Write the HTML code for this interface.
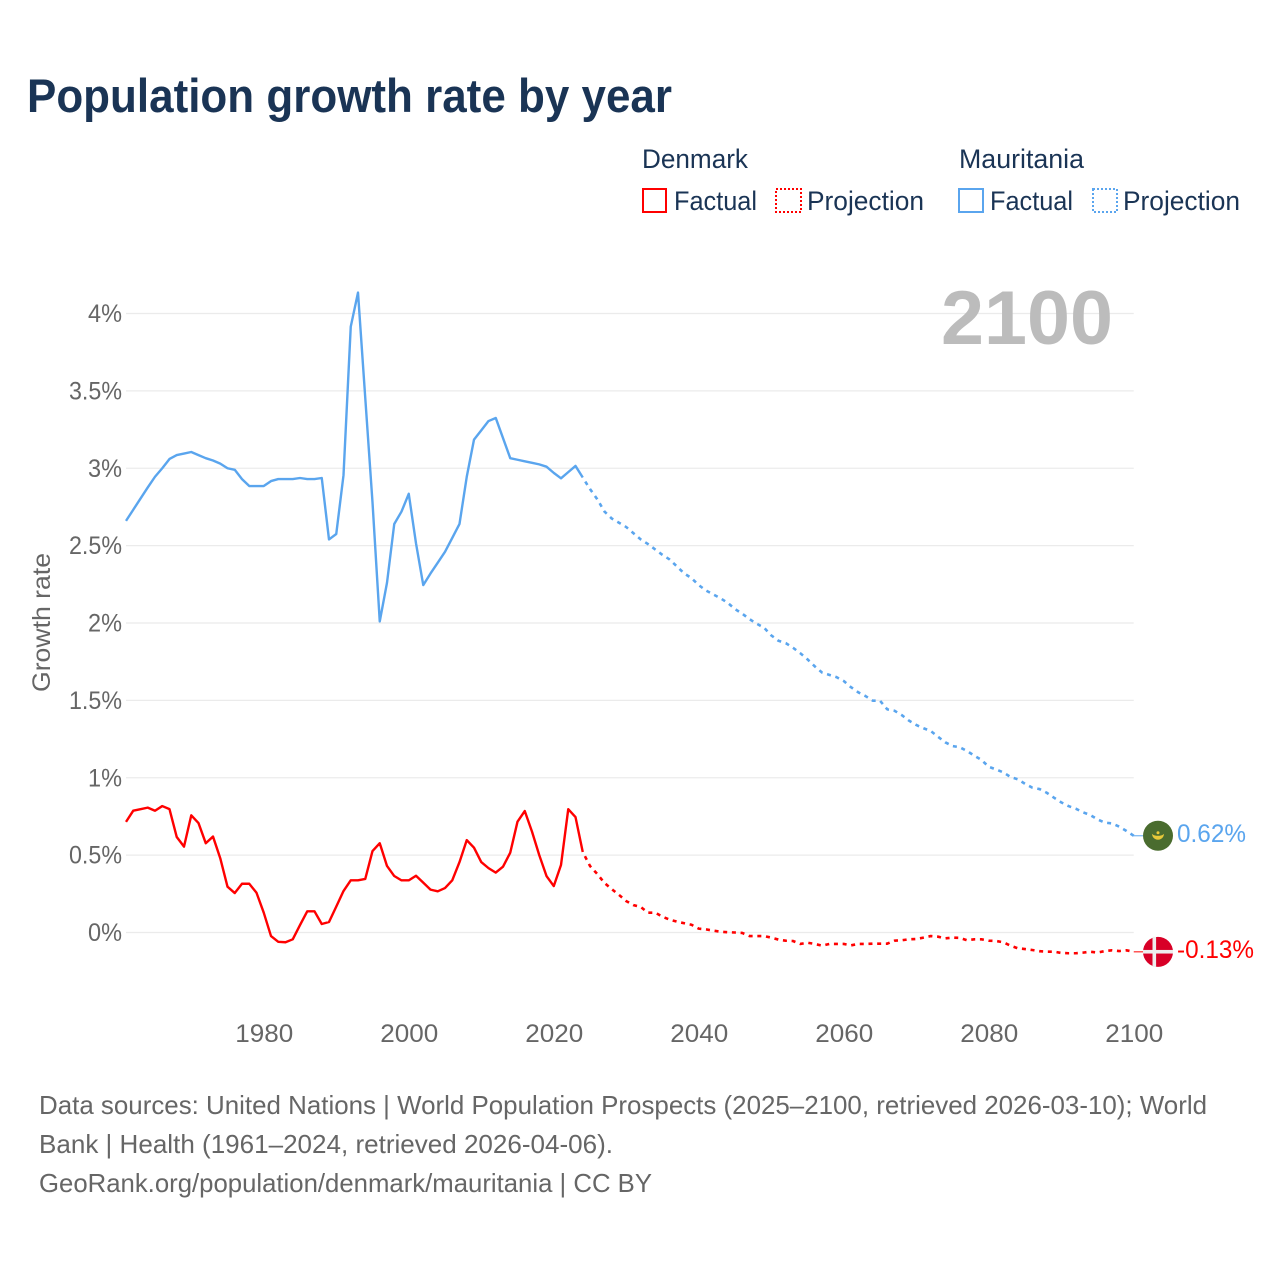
<!DOCTYPE html>
<html lang="en">
<head>
<meta charset="utf-8">
<title>Population growth rate by year</title>
<style>
html,body{margin:0;padding:0;background:#fff;}
svg{display:block;font-family:"Liberation Sans",sans-serif;}
</style>
</head>
<body>
<svg id="chart" xmlns="http://www.w3.org/2000/svg" width="1280" height="1280" viewBox="0 0 1280 1280">
  <rect width="1280" height="1280" fill="#fff"/>
  <text x="27" y="112" font-size="47" font-weight="700" fill="#1a3455" textLength="645" lengthAdjust="spacingAndGlyphs">Population growth rate by year</text>

  <g font-size="27" fill="#1a3455">
    <text x="642" y="168" textLength="106" lengthAdjust="spacingAndGlyphs">Denmark</text>
    <rect x="643" y="189" width="23" height="23" fill="none" stroke="#ff0000" stroke-width="2"/>
    <text x="674" y="210" textLength="83" lengthAdjust="spacingAndGlyphs">Factual</text>
    <rect x="776" y="189" width="25" height="23" fill="none" stroke="#ff0000" stroke-width="2" stroke-dasharray="2 2"/>
    <text x="807" y="210" textLength="117" lengthAdjust="spacingAndGlyphs">Projection</text>
    <text x="959" y="168" textLength="125" lengthAdjust="spacingAndGlyphs">Mauritania</text>
    <rect x="959" y="189" width="24" height="23" fill="none" stroke="#5aa5ee" stroke-width="2"/>
    <text x="990" y="210" textLength="83" lengthAdjust="spacingAndGlyphs">Factual</text>
    <rect x="1093" y="189" width="24" height="23" fill="none" stroke="#5aa5ee" stroke-width="2" stroke-dasharray="2 2"/>
    <text x="1123" y="210" textLength="117" lengthAdjust="spacingAndGlyphs">Projection</text>
  </g>

  <g id="grid"></g>
  <text x="941" y="344" font-size="76" font-weight="700" fill="#bcbcbc" textLength="172" lengthAdjust="spacingAndGlyphs">2100</text>
  <g id="yticks" font-size="25" fill="#666"></g>
  <g id="xticks" font-size="25" fill="#666"></g>
  <text transform="translate(50,622.5) rotate(-90)" text-anchor="middle" font-size="25" fill="#666" textLength="139" lengthAdjust="spacingAndGlyphs">Growth rate</text>
  <g id="series"></g>
  <g id="ends"></g>

  <g font-size="26" fill="#666">
    <text x="39" y="1114" textLength="1168" lengthAdjust="spacingAndGlyphs">Data sources: United Nations | World Population Prospects (2025–2100, retrieved 2026-03-10); World</text>
    <text x="39" y="1153" textLength="574" lengthAdjust="spacingAndGlyphs">Bank | Health (1961–2024, retrieved 2026-04-06).</text>
    <text x="39" y="1192" textLength="613" lengthAdjust="spacingAndGlyphs">GeoRank.org/population/denmark/mauritania | CC BY</text>
  </g>
</svg>
<script>
const firstFactualYear = 1961;
const firstProjectionYear = 2024;
const yTickValues = [0, 0.5, 1, 1.5, 2, 2.5, 3, 3.5, 4];
const yTickLabels = ["0%", "0.5%", "1%", "1.5%", "2%", "2.5%", "3%", "3.5%", "4%"];
const xTickValues = [1980, 2000, 2020, 2040, 2060, 2080, 2100];
const xTickLabels = ["1980", "2000", "2020", "2040", "2060", "2080", "2100"];

const mauritaniaFactual = [
  2.66, 2.732, 2.804, 2.876, 2.945, 3.0, 3.06, 3.085, 3.095,
  3.105, 3.085, 3.065, 3.05, 3.03, 3.0, 2.99, 2.93, 2.885, 2.885,
  2.885, 2.917, 2.93, 2.93, 2.93, 2.937, 2.93, 2.93, 2.937, 2.54, 2.575,
  2.955, 3.915, 4.135, 3.455, 2.78, 2.01, 2.26, 2.64, 2.72,
  2.835, 2.515, 2.245, 2.32, 2.39, 2.46, 2.55, 2.64, 2.945, 3.185,
  3.245, 3.305, 3.325, 3.195, 3.065, 3.055, 3.045, 3.035, 3.025, 3.01,
  2.97, 2.935, 2.975, 3.015, 2.94
];
const mauritaniaProjection = [
  2.94, 2.866, 2.80, 2.72, 2.675, 2.648, 2.62, 2.58, 2.54, 2.51, 2.475,
  2.44, 2.41, 2.365, 2.32, 2.29, 2.245, 2.21, 2.185, 2.16, 2.13,
  2.09, 2.06, 2.025, 1.995, 1.97, 1.92, 1.885, 1.87, 1.84, 1.805,
  1.765, 1.72, 1.68, 1.665, 1.65, 1.625, 1.585, 1.552, 1.528, 1.498,
  1.498, 1.442, 1.433, 1.405, 1.369, 1.341, 1.32, 1.302, 1.265, 1.229,
  1.205, 1.197, 1.173, 1.143, 1.115, 1.071, 1.054, 1.035, 1.005, 0.99,
  0.961, 0.936, 0.927, 0.903, 0.871, 0.841, 0.817, 0.80, 0.777, 0.759,
  0.731, 0.71, 0.705, 0.684, 0.656, 0.625
];
const denmarkFactual = [
  0.715, 0.787, 0.797, 0.807, 0.787, 0.817, 0.797, 0.617, 0.555,
  0.757, 0.707, 0.577, 0.62, 0.48, 0.296, 0.255, 0.315, 0.315, 0.257,
  0.128, -0.023, -0.06, -0.063, -0.044, 0.048, 0.137, 0.137, 0.055, 0.068,
  0.167, 0.268, 0.337, 0.337, 0.346, 0.526, 0.577, 0.43, 0.365, 0.337,
  0.337, 0.367, 0.322, 0.277, 0.266, 0.287, 0.337, 0.455, 0.597, 0.548,
  0.455, 0.416, 0.387, 0.425, 0.516, 0.716, 0.785, 0.652, 0.50, 0.365,
  0.30, 0.436, 0.797, 0.746, 0.52
];
const denmarkProjection = [
  0.52, 0.43, 0.378, 0.32, 0.28, 0.243, 0.203, 0.177, 0.165, 0.128, 0.128,
  0.102, 0.083, 0.07, 0.06, 0.05, 0.025, 0.02, 0.012, 0.005, 0.002,
  0, -0.003, -0.023, -0.023, -0.023, -0.033, -0.046, -0.053, -0.055, -0.074,
  -0.066, -0.074, -0.085, -0.074, -0.074, -0.074, -0.083, -0.074, -0.074, -0.072,
  -0.072, -0.072, -0.053, -0.05, -0.044, -0.042, -0.033, -0.023, -0.027, -0.038,
  -0.033, -0.035, -0.05, -0.044, -0.044, -0.053, -0.055, -0.063, -0.085, -0.102,
  -0.107, -0.113, -0.121, -0.124, -0.124, -0.132, -0.134, -0.134, -0.13, -0.124,
  -0.13, -0.12, -0.115, -0.12, -0.115, -0.125
];
const mauritaniaEndLabel = "0.62%";
const denmarkEndLabel = "-0.13%";

const NS = "http://www.w3.org/2000/svg";
const xScale = function (year) { return 126 + (year - 1961) * 7.25; };
const yScale = function (value) { return 932.5 - value * 154.75; };

function make(tag, parentId) {
  const el = document.createElementNS(NS, tag);
  document.getElementById(parentId).appendChild(el);
  return el;
}

yTickValues.forEach(function (v, i) {
  const line = make("line", "grid");
  
  
  line.setAttribute("x1", xScale(1961));
  line.setAttribute("x2", xScale(2100));
  line.setAttribute("y1", yScale(v));
  line.setAttribute("y2", yScale(v));
  line.setAttribute("stroke", "#ebebeb");
  line.setAttribute("stroke-width", "1.2");

  const t = make("text", "yticks");
  
  
  t.setAttribute("x", 122);
  t.setAttribute("y", yScale(v) + 8.5);
  t.setAttribute("text-anchor", "end");
  t.setAttribute("textLength", yTickLabels[i].length > 2 ? 53 : 34);
  t.setAttribute("lengthAdjust", "spacingAndGlyphs");
  t.textContent = yTickLabels[i];
});

xTickValues.forEach(function (v, i) {
  const t = make("text", "xticks");
  
  
  t.setAttribute("x", xScale(v) + 0.5);
  t.setAttribute("y", 1042);
  t.setAttribute("text-anchor", "middle");
  t.setAttribute("textLength", 58);
  t.setAttribute("lengthAdjust", "spacingAndGlyphs");
  t.textContent = xTickLabels[i];
});

function points(startYear, values) {
  return values.map(function (v, i) {
    return xScale(startYear + i).toFixed(2) + "," + yScale(v).toFixed(2);
  }).join(" ");
}

function styleLine(el, values, startYear, color, dashed) {
  el.setAttribute("points", points(startYear, values));
  el.setAttribute("fill", "none");
  el.setAttribute("stroke", color);
  el.setAttribute("stroke-width", dashed ? "2.6" : "2.4");
  el.setAttribute("stroke-linejoin", "round");
  if (dashed) {
    el.setAttribute("stroke-dasharray", "4 4.7");
    el.setAttribute("stroke-dashoffset", "4");
  }
}

const blue = "#5aa5ee";
const red = "#ff0000";

const mauritaniaFactualLine = make("polyline", "series");


styleLine(mauritaniaFactualLine, mauritaniaFactual, firstFactualYear, blue, false);

const mauritaniaProjectionLine = make("polyline", "series");


styleLine(mauritaniaProjectionLine, mauritaniaProjection, firstProjectionYear, blue, true);

const denmarkFactualLine = make("polyline", "series");


styleLine(denmarkFactualLine, denmarkFactual, firstFactualYear, red, false);

const denmarkProjectionLine = make("polyline", "series");


styleLine(denmarkProjectionLine, denmarkProjection, firstProjectionYear, red, true);

const flagX = xScale(2100) + 24.25;
const mY = yScale(mauritaniaProjection[mauritaniaProjection.length - 1]);
const dY = yScale(denmarkProjection[denmarkProjection.length - 1]);

const mLeader = make("line", "ends");


mLeader.setAttribute("x1", xScale(2100));
mLeader.setAttribute("x2", flagX - 15);
mLeader.setAttribute("y1", mY);
mLeader.setAttribute("y2", mY);
mLeader.setAttribute("stroke", blue);
mLeader.setAttribute("stroke-width", "1");

const dLeader = make("line", "ends");


dLeader.setAttribute("x1", xScale(2100));
dLeader.setAttribute("x2", flagX - 15);
dLeader.setAttribute("y1", dY);
dLeader.setAttribute("y2", dY);
dLeader.setAttribute("stroke", red);
dLeader.setAttribute("stroke-width", "1");

const mFlag = make("g", "ends");


mFlag.setAttribute("transform", "translate(" + flagX + "," + mY + ")");
mFlag.innerHTML = '<circle r="15" fill="#4a6c2f"/>' +
  '<path d="M-5.5,-1 A5.6,5.6 0 0 0 5.5,-1 A7,3.6 0 0 1 -5.5,-1 Z" fill="#e8c93a" stroke="#e8c93a" stroke-width="0.8"/>' +
  '<circle cx="0" cy="-3" r="1.5" fill="#e8c93a"/>';

const dFlag = make("g", "ends");


dFlag.setAttribute("transform", "translate(" + flagX + "," + dY + ")");
dFlag.innerHTML = '<circle r="15" fill="#d80027"/>' +
  '<rect x="-5.5" y="-15" width="3.6" height="30" fill="#eeeeee"/>' +
  '<rect x="-15" y="-1.9" width="30" height="3.6" fill="#eeeeee"/>';

const mLabel = make("text", "ends");


mLabel.setAttribute("x", 1177);
mLabel.setAttribute("y", mY + 6);
mLabel.setAttribute("font-size", "25");
mLabel.setAttribute("fill", blue);
mLabel.setAttribute("textLength", 69);
mLabel.setAttribute("lengthAdjust", "spacingAndGlyphs");
mLabel.textContent = mauritaniaEndLabel;

const dLabel = make("text", "ends");


dLabel.setAttribute("x", 1177);
dLabel.setAttribute("y", dY + 6);
dLabel.setAttribute("font-size", "25");
dLabel.setAttribute("fill", red);
dLabel.setAttribute("textLength", 77);
dLabel.setAttribute("lengthAdjust", "spacingAndGlyphs");
dLabel.textContent = denmarkEndLabel;
</script>
</body>
</html>
